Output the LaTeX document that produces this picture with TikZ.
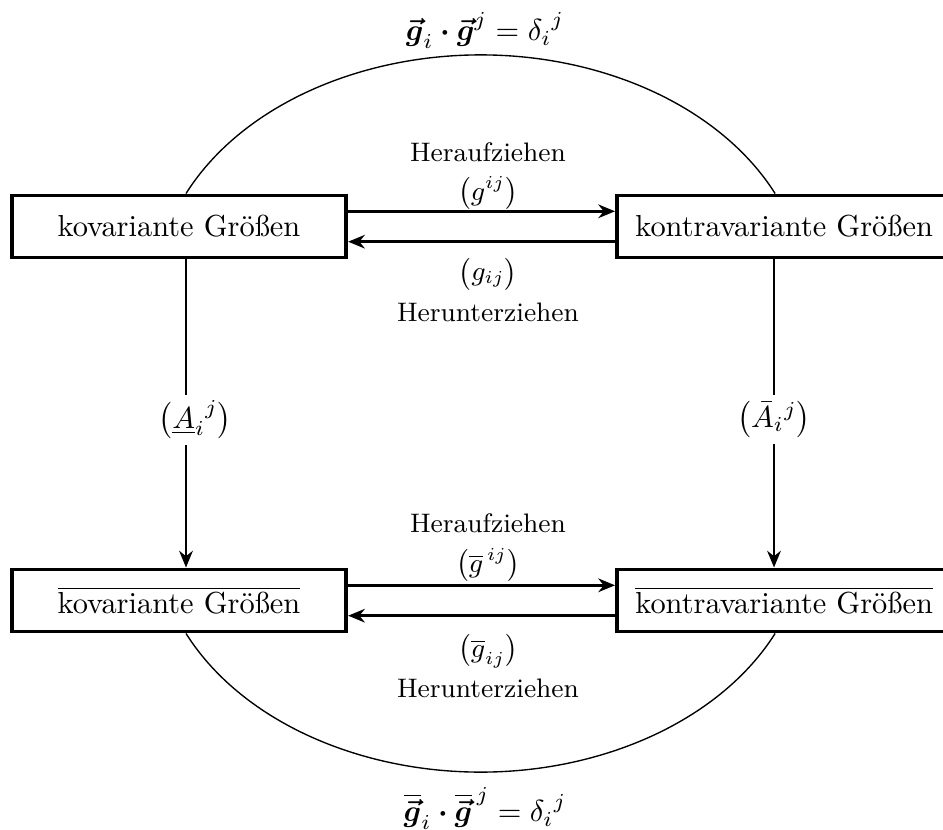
\documentclass[tikz,border=0pt]{standalone}
\usepackage{amsmath,amssymb}
\usetikzlibrary{arrows.meta}
\begin{document}
\begin{tikzpicture}[x=0.329pt,y=0.329pt,
  box/.style={draw,line width=1.3pt,fill=white,minimum width=110pt,minimum height=20.4pt,inner xsep=6pt,inner ysep=0pt},
  arr/.style={line width=0.8pt,-{Stealth[length=5.5pt,width=4.5pt]}},
  lab/.style={font=\fontsize{8.8pt}{10pt}\selectfont,inner sep=0pt},
  vlab/.style={fill=white,inner sep=2pt},
  curve/.style={line width=0.45pt}]
\useasboundingbox (0,0) rectangle (943,829);
% boxes
\node[box] (kl) at (179,602.5) {kovariante Größen};
\node[box,anchor=west] (kr) at (615,602.5) {kontravariante Größen};
\node[box] (bl) at (179,228.5) {$\overline{\mbox{kovariante Größen}}$};
\node[box,anchor=west] (br) at (615,228.5) {$\overline{\mbox{kontravariante Größen}}$};
\coordinate (xl) at (186,0);
\coordinate (xr) at (774,0);
% arcs
\draw[curve] (kl.north -| xl) arc[start angle=155,end angle=25,x radius=325,y radius=240];
\draw[curve] (bl.south -| xl) arc[start angle=205,end angle=335,x radius=325,y radius=240];
% formulas
\node (ft) at (485,799) {$\boldsymbol{\vec g}_i\boldsymbol{\cdot}\boldsymbol{\vec g}^j = {\delta_i}^j$};
\node (fb) at (485,21) {$\overline{\boldsymbol{\vec g}}_i\boldsymbol{\cdot}\overline{\boldsymbol{\vec g}}^{\,j} = {\delta_i}^j$};
% horizontal arrows
\draw[arr] ([yshift=5pt]kl.east) -- ([yshift=5pt]kr.west);
\draw[arr] ([yshift=-5pt]kr.west) -- ([yshift=-5pt]kl.east);
\draw[arr] ([yshift=5pt]bl.east) -- ([yshift=5pt]br.west);
\draw[arr] ([yshift=-5pt]br.west) -- ([yshift=-5pt]bl.east);
% labels top
\node[lab] (hu1) at (488,677) {Heraufziehen};
\node[lab] (gu1) at (488,636) {$\bigl(g^{ij}\bigr)$};
\node[lab] (gd1) at (488,555) {$\bigl(g_{ij}\bigr)$};
\node[lab] (hd1) at (488,517) {Herunterziehen};
% labels bottom
\node[lab] (hu2) at (488,306) {Heraufziehen};
\node[lab] (gu2) at (488,264) {$\bigl(\overline{g}^{\,ij}\bigr)$};
\node[lab] (gd2) at (488,178) {$\bigl(\overline{g}_{ij}\bigr)$};
\node[lab] (hd2) at (488,141) {Herunterziehen};
% vertical arrows
\draw[arr] (kl.south -| xl) -- node[vlab,pos=0.52,xshift=3pt] {$\bigl({\underline{A}_i}^{j}\bigr)$} (bl.north -| xl);
\draw[arr] (kr.south -| xr) -- node[vlab,pos=0.52] {$\bigl({\bar{A}}_{i}{}^{j}\bigr)$} (br.north -| xr);
\end{tikzpicture}
\end{document}
